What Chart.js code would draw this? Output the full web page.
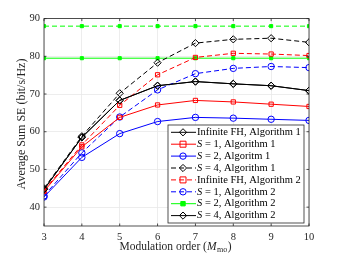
<!DOCTYPE html>
<html>
<head>
<meta charset="utf-8">
<script src="https://cdn.jsdelivr.net/npm/chart.js@4"></script>
<style>
  html, body { margin: 0; padding: 0; background: #fff; }
  #wrap { width: 341px; height: 256px; }
</style>
</head>
<body>
<div id="wrap"><canvas id="myChart" width="341" height="256"></canvas></div>
<script>
const modOrder = [3, 4, 5, 6, 7, 8, 9, 10];
const yTicks = [40, 50, 60, 70, 80, 90];

const infFhAlg1 = [44.7, 58.5, 68.3, 72.2, 73.3, 72.7, 72.2, 70.9];
const s1Alg1 = [44.2, 56.0, 63.8, 67.1, 68.3, 67.9, 67.3, 66.7];
const s2Alg1 = [42.7, 53.2, 59.5, 62.7, 63.8, 63.6, 63.3, 63.0];
const s4Alg1 = [45.0, 58.8, 70.2, 78.3, 83.5, 84.5, 84.8, 83.7];
const infFhAlg2 = [44.4, 56.5, 67.0, 75.1, 79.7, 80.8, 80.6, 80.2];
const s1Alg2 = [43.0, 54.4, 63.9, 71.1, 75.4, 76.8, 77.3, 77.0];
const s2Alg2 = [79.5, 79.5, 79.5, 79.5, 79.5, 79.5, 79.5, 79.5];
const s4Alg2 = [44.7, 58.5, 68.3, 72.2, 73.3, 72.7, 72.2, 70.9];
const upperBound = [88, 88, 88, 88, 88, 88, 88, 88];

const SERIF = "'Liberation Serif', 'DejaVu Serif', serif";

function series(label, values, color, marker, dashed, inLegend) {
  return {
    label: label,
    data: values.map((v, i) => ({ x: modOrder[i], y: v })),
    borderColor: color,
    borderWidth: 1,
    borderDash: dashed ? [5, 3] : [],
    pointStyle: marker,
    pointRadius: marker === "rect" ? 2.2 : (marker === "rectRot" ? 3.6 : 3.2),
    pointBorderWidth: 1,
    pointBorderColor: color,
    pointBackgroundColor: marker === "rect" && color === "#00ff00" ? color : "rgba(0,0,0,0)",
    inLegend: inLegend,
    tension: 0,
  };
}

const datasets = [
  series("Infinite FH, Algorithm 1", infFhAlg1, "#000000", "rectRot", false, true),
  series("S = 1, Algorithm 1", s1Alg1, "#ff0000", "rect", false, true),
  series("S = 2, Algoritm 1", s2Alg1, "#0000ff", "circle", false, true),
  series("S = 4, Algorithm 1", s4Alg1, "#000000", "rectRot", true, true),
  series("Infinite FH, Algorithm 2", infFhAlg2, "#ff0000", "rect", true, true),
  series("S = 1, Algorithm 2", s1Alg2, "#0000ff", "circle", true, true),
  series("S = 2, Algorithm 2", s2Alg2, "#00ff00", "rect", false, true),
  series("S = 4, Algorithm 2", s4Alg2, "#000000", "rectRot", false, true),
  series("Upper bound", upperBound, "#00ff00", "rect", true, false),
];
// the red squares are drawn a bit bigger than the green blobs
datasets[1].pointRadius = 3; datasets[4].pointRadius = 3;

function drawMarker(ctx, style, r, x, y, color, fill) {
  ctx.save();
  ctx.setLineDash([]);
  ctx.strokeStyle = color;
  ctx.fillStyle = fill;
  ctx.lineWidth = 1;
  ctx.beginPath();
  if (style === "circle") {
    ctx.arc(x, y, r, 0, Math.PI * 2);
  } else if (style === "rect") {
    ctx.rect(x - r, y - r, 2 * r, 2 * r);
  } else {
    ctx.moveTo(x, y - r); ctx.lineTo(x + r, y); ctx.lineTo(x, y + r); ctx.lineTo(x - r, y); ctx.closePath();
  }
  ctx.fill();
  ctx.stroke();
  ctx.restore();
}

function drawLabel(ctx, text, x, y) {
  ctx.textBaseline = "middle";
  ctx.textAlign = "left";
  if (text.startsWith("S ")) {
    ctx.font = "italic 10.5px " + SERIF;
    ctx.fillText("S", x, y);
    const w = ctx.measureText("S").width;
    ctx.font = "10.5px " + SERIF;
    ctx.fillText(text.slice(1), x + w, y);
  } else {
    ctx.font = "10.5px " + SERIF;
    ctx.fillText(text, x, y);
  }
}

const decorations = {
  id: "decorations",
  afterDraw(chart) {
    const ctx = chart.ctx;
    const a = chart.chartArea;
    const xs = chart.scales.x, ys = chart.scales.y;
    ctx.save();
    // axes box and inward ticks
    ctx.strokeStyle = "#262626";
    ctx.lineWidth = 0.8;
    ctx.strokeRect(a.left, a.top, a.right - a.left, a.bottom - a.top);
    ctx.beginPath();
    yTicks.forEach((v) => {
      const py = ys.getPixelForValue(v);
      ctx.moveTo(a.left, py); ctx.lineTo(a.left + 2.5, py);
      ctx.moveTo(a.right, py); ctx.lineTo(a.right - 2.5, py);
    });
    modOrder.forEach((v) => {
      const px = xs.getPixelForValue(v);
      ctx.moveTo(px, a.bottom); ctx.lineTo(px, a.bottom - 2.5);
      ctx.moveTo(px, a.top); ctx.lineTo(px, a.top + 2.5);
    });
    ctx.stroke();

    // legend
    const bx = 168, by = 125, bw = 136, bh = 98;
    ctx.fillStyle = "#fff";
    ctx.fillRect(bx, by, bw, bh);
    ctx.strokeRect(bx, by, bw, bh);
    let row = 0;
    chart.data.datasets.forEach((ds) => {
      if (!ds.inLegend) return;
      const y = 132.3 + row * 11.9;
      ctx.save();
      ctx.strokeStyle = ds.borderColor;
      ctx.lineWidth = 1;
      ctx.setLineDash(ds.borderDash);
      ctx.beginPath();
      ctx.moveTo(171, y);
      ctx.lineTo(196, y);
      ctx.stroke();
      ctx.restore();
      drawMarker(ctx, ds.pointStyle, ds.pointRadius, 183, y, ds.borderColor, ds.pointBackgroundColor);
      ctx.fillStyle = "#000";
      drawLabel(ctx, ds.label, 197, y);
      row++;
    });

    // y title
    ctx.fillStyle = "#262626";
    ctx.save();
    ctx.translate(22, 124);
    ctx.rotate(-Math.PI / 2);
    ctx.textAlign = "center";
    ctx.textBaseline = "middle";
    ctx.font = "12px " + SERIF;
    ctx.fillText("Average Sum SE (bit/s/Hz)", 0, 0);
    ctx.restore();

    // x title with italic M and subscript
    const y0 = 247;
    ctx.textBaseline = "middle";
    ctx.textAlign = "left";
    ctx.font = "11.5px " + SERIF;
    const p1 = "Modulation order (";
    const w1 = ctx.measureText(p1).width;
    ctx.font = "italic 11.5px " + SERIF;
    const w2 = ctx.measureText("M").width;
    ctx.font = "8px " + SERIF;
    const w3 = ctx.measureText("mo").width;
    ctx.font = "11.5px " + SERIF;
    const w4 = ctx.measureText(")").width;
    let x = 175.5 - (w1 + w2 + w3 + 1 + w4) / 2;
    ctx.fillText(p1, x, y0); x += w1;
    ctx.font = "italic 11.5px " + SERIF;
    ctx.fillText("M", x, y0); x += w2 + 0.5;
    ctx.font = "8px " + SERIF;
    ctx.fillText("mo", x, y0 + 3); x += w3 + 0.5;
    ctx.font = "11.5px " + SERIF;
    ctx.fillText(")", x, y0);
    ctx.restore();
  },
};

const ctx = document.getElementById("myChart").getContext("2d");
new Chart(ctx, {
  type: "line",
  data: { datasets: datasets },
  options: {
    responsive: false,
    animation: false,
    layout: { padding: { top: 18.6, right: 32, left: 0, bottom: 0 } },
    plugins: { legend: { display: false }, tooltip: { enabled: false } },
    scales: {
      x: {
        type: "linear",
        min: 3,
        max: 10,
        afterBuildTicks: (s) => { s.ticks = modOrder.map((v) => ({ value: v })); },
        afterFit: (s) => { s.height = 30; },
        grid: { color: "#e8e8e8", lineWidth: 0.8, drawTicks: false },
        border: { display: false },
        ticks: { color: "#262626", padding: 5, font: { family: SERIF, size: 10.5 } },
      },
      y: {
        min: 35,
        max: 90,
        afterBuildTicks: (s) => { s.ticks = yTicks.map((v) => ({ value: v })); },
        afterFit: (s) => { s.width = 44; },
        grid: { color: "#e8e8e8", lineWidth: 0.8, drawTicks: false },
        border: { display: false },
        ticks: { color: "#262626", padding: 4, font: { family: SERIF, size: 10.5 } },
      },
    },
  },
  plugins: [decorations],
});
</script>
</body>
</html>
